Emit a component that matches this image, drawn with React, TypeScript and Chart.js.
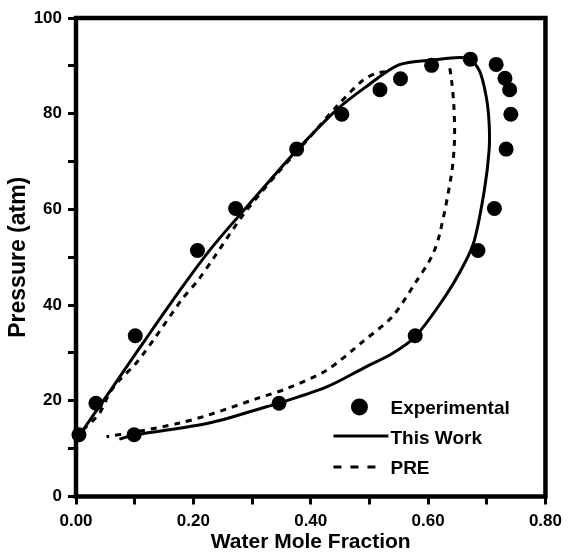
import React, { useEffect, useRef } from 'react';
import { Chart, registerables } from 'chart.js';

Chart.register(...registerables);

// Experimental data (water mole fraction, pressure atm)
const expX = [0.005, 0.034, 0.101, 0.099, 0.207, 0.272, 0.376, 0.453, 0.518, 0.553, 0.606, 0.672, 0.716, 0.731, 0.739, 0.741, 0.733, 0.713, 0.685, 0.578, 0.346];
const expY = [12.9, 19.5, 33.6, 12.9, 51.4, 60.2, 72.6, 79.9, 85.0, 87.3, 90.1, 91.4, 90.3, 87.4, 85.0, 79.9, 72.6, 60.2, 51.4, 33.6, 19.5];

// This Work (solid curve)
const workX = [0.074, 0.102, 0.225, 0.326, 0.346, 0.427, 0.494, 0.539, 0.578, 0.629, 0.662, 0.679, 0.696, 0.704, 0.704, 0.699, 0.687, 0.667, 0.606, 0.550, 0.494, 0.444, 0.378, 0.330, 0.280, 0.230, 0.180, 0.120, 0.060, 0.012];
const workY = [12.0, 12.9, 15.3, 18.8, 19.5, 22.9, 27.1, 29.9, 33.4, 41.8, 48.7, 53.6, 64.1, 72.4, 78.0, 83.6, 89.1, 91.6, 91.2, 90.2, 85.6, 80.8, 72.6, 66.0, 59.0, 51.8, 43.6, 33.1, 22.4, 13.9];

// PRE (dashed curve) - upper-left branch
const preUpX = [0.012, 0.040, 0.057, 0.074, 0.102, 0.136, 0.180, 0.208, 0.236, 0.287, 0.343, 0.399, 0.444, 0.489, 0.511, 0.528];
const preUpY = [13.9, 17.4, 21.6, 24.3, 27.8, 33.4, 41.1, 45.2, 50.1, 59.2, 67.5, 75.2, 81.5, 87.0, 88.4, 88.8];

// PRE (dashed curve) - right / lower branch
const preLoX = [0.637, 0.640, 0.644, 0.645, 0.640, 0.620, 0.606, 0.578, 0.539, 0.489, 0.427, 0.360, 0.309, 0.225, 0.175, 0.102, 0.052];
const preLoY = [89.5, 87.0, 81.5, 74.5, 67.5, 55.0, 50.1, 44.6, 37.6, 32.4, 26.4, 22.6, 20.5, 17.0, 15.3, 13.5, 12.5];

const legendLabels = ['Experimental', 'This Work', 'PRE'];

const pts = (xs: number[], ys: number[]) => xs.map((x, i) => ({ x, y: ys[i] }));

const FONT = '"Liberation Sans", Arial, Helvetica, sans-serif';

export default function App() {
  const ref = useRef<HTMLCanvasElement>(null);

  useEffect(() => {
    if (!ref.current) return;
    Chart.defaults.font.family = FONT;
    Chart.defaults.color = '#000';

    const framePlugin = {
      id: 'frameAndLegend',
      afterDraw(chart: any) {
        const { ctx, chartArea: a } = chart;
        ctx.save();
        ctx.strokeStyle = '#000';
        ctx.lineWidth = 4.5;
        ctx.setLineDash([]);
        ctx.strokeRect(a.left, a.top, a.right - a.left, a.bottom - a.top);

        // legend
        const mx = a.right - 186;
        const lx0 = a.right - 212;
        const lx1 = a.right - 157;
        const tx = a.right - 155;
        const b1 = a.bottom - 82.5;
        const b2 = a.bottom - 53;
        const b3 = a.bottom - 22.5;
        ctx.fillStyle = '#000';
        ctx.beginPath();
        ctx.arc(mx, b1 - 7, 8.5, 0, Math.PI * 2);
        ctx.fill();

        ctx.lineWidth = 3;
        ctx.beginPath();
        ctx.moveTo(lx0, b2 - 7.5);
        ctx.lineTo(lx1, b2 - 7.5);
        ctx.stroke();

        ctx.setLineDash([8, 9]);
        ctx.beginPath();
        ctx.moveTo(lx0, b3 - 7);
        ctx.lineTo(lx0 + 42, b3 - 7);
        ctx.stroke();
        ctx.setLineDash([]);

        ctx.font = `bold 19px ${FONT}`;
        ctx.textAlign = 'left';
        ctx.textBaseline = 'alphabetic';
        ctx.fillText(legendLabels[0], tx, b1);
        ctx.fillText(legendLabels[1], tx, b2);
        ctx.fillText(legendLabels[2], tx, b3);
        ctx.restore();
      },
    };

    const chart = new Chart(ref.current, {
      type: 'line',
      data: {
        datasets: [
          {
            label: legendLabels[1],
            data: pts(workX, workY),
            borderColor: '#000',
            borderWidth: 3,
            pointRadius: 0,
            tension: 0.3,
            fill: false,
          },
          {
            label: legendLabels[2],
            data: pts(preUpX, preUpY),
            borderColor: '#000',
            borderWidth: 3,
            borderDash: [6, 6],
            pointRadius: 0,
            tension: 0.3,
            fill: false,
          },
          {
            label: legendLabels[2] + ' ',
            data: pts(preLoX, preLoY),
            borderColor: '#000',
            borderWidth: 3,
            borderDash: [6, 6],
            pointRadius: 0,
            tension: 0.3,
            fill: false,
          },
          {
            label: legendLabels[0],
            data: pts(expX, expY),
            showLine: false,
            pointRadius: 7.5,
            pointBackgroundColor: '#000',
            pointBorderColor: '#000',
            pointBorderWidth: 0,
            clip: false,
          } as any,
        ],
      },
      options: {
        responsive: false,
        animation: false,
        devicePixelRatio: 1,
        layout: { padding: { top: 18, right: 17, left: 0, bottom: 0 } },
        plugins: {
          legend: { display: false },
          tooltip: { enabled: false },
        },
        scales: {
          x: {
            type: 'linear',
            min: 0,
            max: 0.8,
            afterFit: (s: any) => { s.height = 57.5; },
            ticks: {
              stepSize: 0.1,
              autoSkip: false,
              maxRotation: 0,
              padding: 7,
              color: '#000',
              font: { size: 17, weight: 'bold' },
              callback: (v: any, i: number) => (i % 2 === 0 ? Number(v).toFixed(2) : ''),
            },
            grid: {
              display: true,
              drawOnChartArea: false,
              drawTicks: true,
              tickLength: 8,
              tickWidth: 3,
              tickColor: '#000',
            },
            border: { display: false },
            title: {
              display: true,
              text: 'Water Mole Fraction',
              color: '#000',
              font: { size: 21, weight: 'bold', lineHeight: 1.1 },
              padding: { top: 0, bottom: 0 },
            },
          },
          y: {
            type: 'linear',
            min: 0,
            max: 100,
            afterFit: (s: any) => { s.width = 76; },
            ticks: {
              stepSize: 10,
              autoSkip: false,
              padding: 6,
              color: '#000',
              font: { size: 17, weight: 'bold' },
              callback: (v: any) => (Number(v) % 20 === 0 ? String(v) : ''),
            },
            grid: {
              display: true,
              drawOnChartArea: false,
              drawTicks: true,
              tickLength: 8,
              tickWidth: 3,
              tickColor: '#000',
            },
            border: { display: false },
            title: {
              display: true,
              text: 'Pressure (atm)',
              color: '#000',
              font: { size: 23, weight: 'bold', lineHeight: 1.2 },
              padding: { top: 5, bottom: 0 },
            },
          },
        },
      },
      plugins: [framePlugin],
    } as any);

    return () => chart.destroy();
  }, []);

  return (
    <div style={{ position: 'fixed', left: 0, top: 0, width: 569, height: 554, background: '#fff' }}>
      <canvas ref={ref} width={569} height={554} style={{ display: 'block', width: 569, height: 554 }} />
    </div>
  );
}
